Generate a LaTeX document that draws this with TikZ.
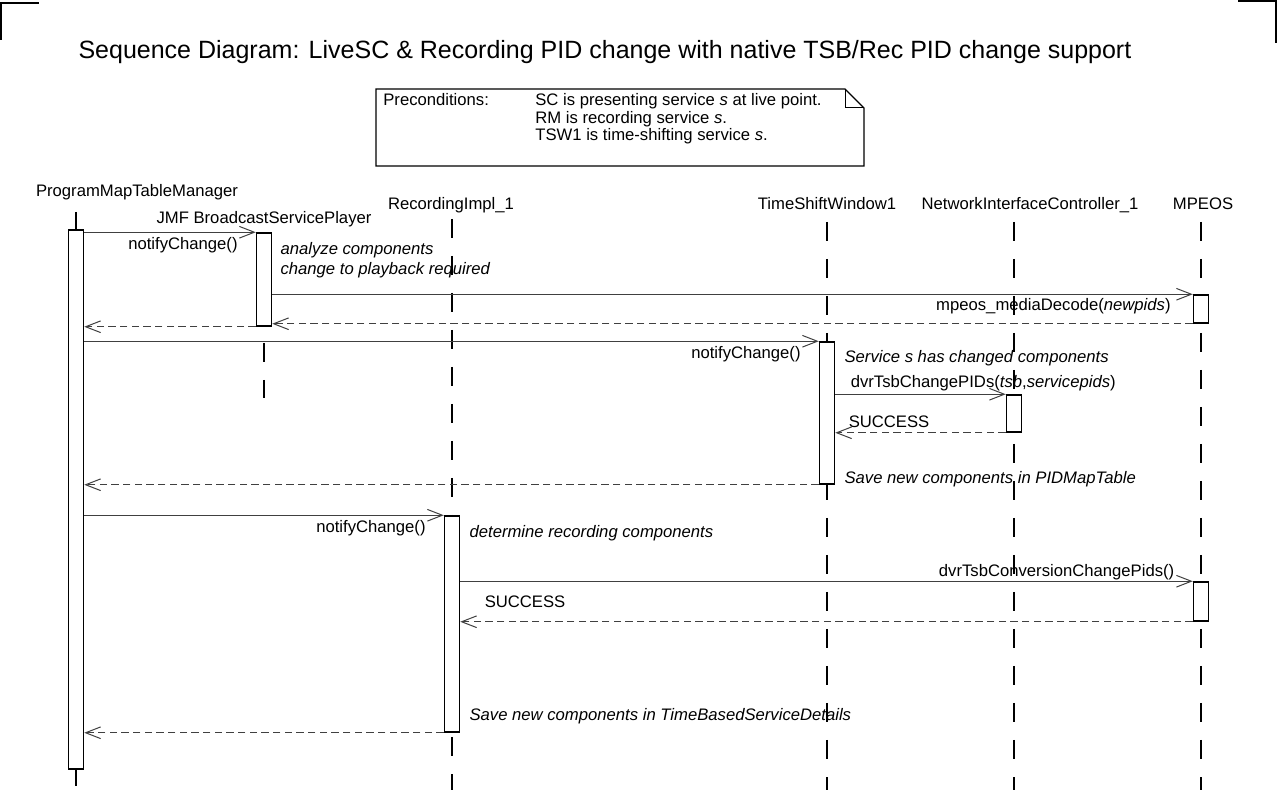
\documentclass[tikz,border=0pt]{standalone}
\usepackage{fontspec}
\setmainfont{Liberation Sans}
\usepackage{tikz}
\usetikzlibrary{arrows.meta}
\def\xPmt{76}
\def\xJmf{264}
\def\xRec{452}
\def\xTsw{827}
\def\xNic{1014}
\def\xMp{1201}
\def\lifeend{790}
\newcommand\px{0.6pt}

\begin{document}
\begin{tikzpicture}[x=0.6pt, y=-0.6pt,
	bar/.style={draw, line width=0.9pt, fill=white, inner sep=0pt, minimum width=15*\px},
	lifeline/.style={line width=0.7pt, dash pattern=on 11.4pt off 10.8pt},
	call/.style={line width=0.6pt, black!75, -{Straight Barb[length=9pt, width=7pt]}},
	reply/.style={call, dash pattern=on 4.5pt off 2.5pt},
	lblbelow/.style={anchor=north east, inner sep=1pt, text=black, xshift=-16*\px, yshift=-3*\px},
	lblabove/.style={anchor=base west, inner sep=0pt, text=black},
	head/.style={anchor=base, inner sep=0pt},
	notetext/.style={anchor=north west, inner sep=0pt, font=\itshape, align=left}]
	\useasboundingbox (0,0) rectangle (1278,790);
	% corner marks
	\draw[line width=0.9pt] (1,40) -- (1,3) -- (39,3);
	\draw[line width=0.9pt] (1238,1) -- (1276,1) -- (1276,43);
	\node (title) at (605,52) {\fontsize{15}{18}\selectfont Sequence Diagram: LiveSC \& Recording PID change with native TSB/Rec PID change support};
	% preconditions note
	\draw[line width=0.8pt] (376,89) -- (845,89) -- (864,108) -- (864,166) -- (376,166) -- cycle;
	\draw[line width=0.6pt] (845,89) -- (845,108) -- (864,108);
	\node (pre) [anchor=base west, inner sep=0pt] at (383,106) {Preconditions:};
	\node (pre0) [anchor=base west, inner sep=0pt] at (535,106) {SC is presenting service \textit{s} at live point.};
	\node (pre1) [anchor=base west, inner sep=0pt] at (535,123.5) {RM is recording service \textit{s}.};
	\node (pre2) [anchor=base west, inner sep=0pt] at (535,141) {TSW1 is time-shifting service \textit{s}.};
	% objects
	\node (pmtHead) [head] at (137,197) {ProgramMapTableManager};
	\node (jmfHead) [head] at (264,224) {JMF BroadcastServicePlayer};
	\node (recHead) [head] at (451,210) {RecordingImpl\_1};
	\node (tswHead) [head] at (827,210) {TimeShiftWindow1};
	\node (nicHead) [head] at (1030,210) {NetworkInterfaceController\_1};
	\node (mpHead) [head] at (1203,210) {MPEOS};
	% lifelines
	\foreach \x/\a/\b in {\xPmt/212/\lifeend, \xJmf/343/398, \xRec/219/\lifeend, \xTsw/222/\lifeend, \xNic/222/\lifeend, \xMp/222/\lifeend}
		\draw[lifeline] (\x,\a) -- (\x,\b);
	% activations
	\node (pmtBar) [bar, minimum height=539*\px] at (\xPmt,499.5) {};
	\node (jmfBar) [bar, minimum height=93*\px] at (\xJmf,279.5) {};
	\node (mpBarA) [bar, minimum height=28*\px] at (\xMp,309) {};
	\node (tswBar) [bar, minimum height=142*\px] at (\xTsw,413) {};
	\node (nicBar) [bar, minimum height=37*\px] at (\xNic,413.5) {};
	\node (recBar) [bar, minimum height=216*\px] at (\xRec,624) {};
	\node (mpBarB) [bar, minimum height=39*\px] at (\xMp,601.5) {};
	% messages
	\draw[call] (pmtBar.east |- jmfBar.north) -- (jmfBar.north west) node[lblbelow] {notifyChange()};
	\node (jmfNote) [notetext, xshift=8*\px, yshift=-10*\px] at (jmfBar.north east) {analyze components\\change to playback required};
	\draw[call] (jmfBar.east |- mpBarA.north) -- (mpBarA.north west) node[lblbelow, xshift=-4*\px, yshift=1*\px] {mpeos\_mediaDecode(\textit{newpids})};
	\draw[reply] (mpBarA.south west) -- (jmfBar.east |- mpBarA.south);
	\draw[reply] (jmfBar.south west) -- (pmtBar.east |- jmfBar.south);

	\draw[call] (pmtBar.east |- tswBar.north) -- (tswBar.north west) node[lblbelow] {notifyChange()};
	\node (tswNote) [notetext, xshift=9*\px, yshift=-9*\px] at (tswBar.north east) {Service s has changed components};
	\draw[call] (tswBar.east |- nicBar.north) node[lblabove, xshift=15*\px, yshift=7*\px] {dvrTsbChangePIDs(\textit{tsb},\textit{servicepids})} -- (nicBar.north west);
	\draw[reply] (nicBar.south west) -- (tswBar.east |- nicBar.south) node[lblabove, xshift=13*\px, yshift=5*\px] {SUCCESS};
	\node (tswSave) [notetext, anchor=base west, xshift=9*\px, yshift=1*\px] at (tswBar.south east) {Save new components in PIDMapTable};
	\draw[reply] (tswBar.south west) -- (pmtBar.east |- tswBar.south);

	\draw[call] (pmtBar.east |- recBar.north) -- (recBar.north west) node[lblbelow] {notifyChange()};
	\node (recNote) [notetext, xshift=9*\px, yshift=-10*\px] at (recBar.north east) {determine recording components};
	\draw[call] (recBar.east |- mpBarB.north) -- (mpBarB.north west) node[lblabove, anchor=base east, xshift=-18*\px, yshift=5*\px] {dvrTsbConversionChangePids()};
	\draw[reply] (mpBarB.south west) -- (recBar.east |- mpBarB.south) node[lblabove, xshift=24*\px, yshift=14*\px] {SUCCESS};
	\node (recSave) [notetext, anchor=base west, xshift=9*\px, yshift=12*\px] at (recBar.south east) {Save new components in TimeBasedServiceDetails};
	\draw[reply] (recBar.south west) -- (pmtBar.east |- recBar.south);
\end{tikzpicture}
\end{document}
